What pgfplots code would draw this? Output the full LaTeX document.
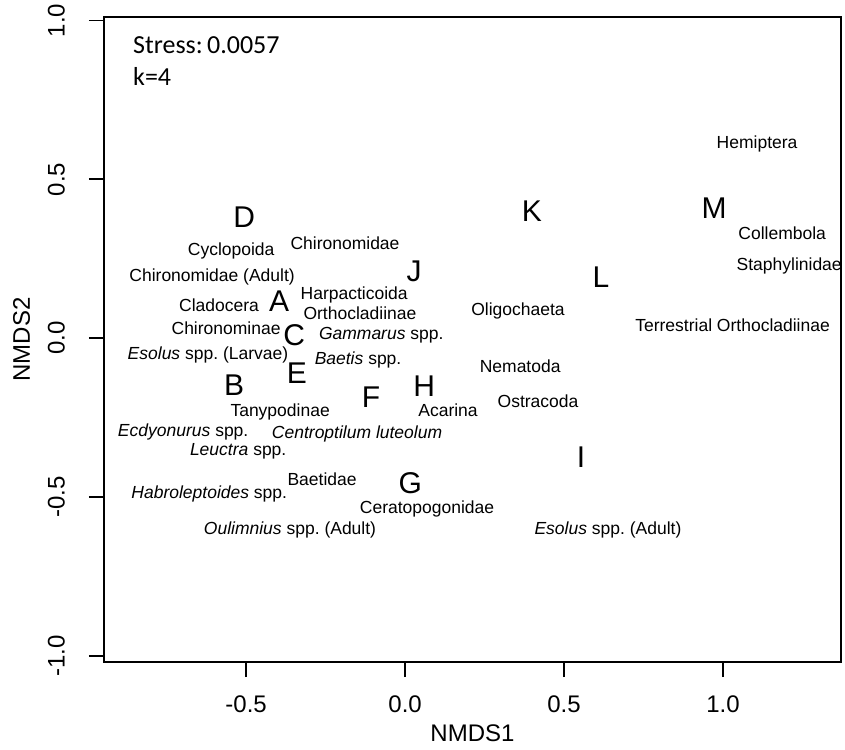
\documentclass[border=0pt]{standalone}
\usepackage{fontspec}
\setmainfont{Liberation Sans}
\newfontfamily\stressfont{Carlito}
\usepackage{pgfplots}
\pgfplotsset{compat=1.18}
\begin{document}
\frenchspacing
\begin{tikzpicture}
\begin{axis}[
  scale only axis, width=737pt, height=645pt,
  xmin=-0.947, xmax=1.371, ymin=-1.019, ymax=1.011,
  xtick={-0.5,0,0.5,1}, ytick={-1,-0.5,0,0.5,1},
  xticklabels={-0.5,0.0,0.5,1.0}, yticklabels={-1.0,-0.5,0.0,0.5,1.0},
  tick align=outside, major tick length=15pt,
  xtick pos=left, ytick pos=left,
  axis line style={line width=1.8pt},
  major tick style={line width=1.8pt, black},
  tick label style={font=\fontsize{24}{28}\selectfont, inner sep=0pt},
  xticklabel style={anchor=north, yshift=-19pt},
  yticklabel style={rotate=90, anchor=south, yshift=24pt},
  /pgf/number format/assume math mode=true,
  xlabel={NMDS1}, ylabel={NMDS2},
  label style={font=\fontsize{24}{28}\selectfont, inner sep=0pt},
  xlabel style={at={(axis description cs:0.5,0)}, anchor=base, yshift=-79pt},
  ylabel style={at={(axis description cs:0,0.5)}, anchor=base, yshift=74pt},
  clip=false,
]
\coordinate (sw) at (rel axis cs:0,0);
\coordinate (ne) at (rel axis cs:1,1);
% sites
\addplot[only marks, mark=none, nodes near coords, point meta=explicit symbolic,
  nodes near coords style={anchor=center, inner sep=0pt, font=\fontsize{30}{34}\selectfont}]
coordinates {
(-0.396,0.116) [A]
(-0.538,-0.147) [B]
(-0.349,0.009) [C]
(-0.506,0.382) [D]
(-0.340,-0.110) [E]
(-0.107,-0.185) [F]
(0.016,-0.455) [G]
(0.060,-0.150) [H]
(0.553,-0.373) [I]
(0.028,0.210) [J]
(0.399,0.401) [K]
(0.616,0.191) [L]
(0.972,0.408) [M]
};
% species
\addplot[only marks, mark=none, nodes near coords, point meta=explicit symbolic,
  nodes near coords style={anchor=center, inner sep=0pt, font=\fontsize{17.5}{20}\selectfont}]
coordinates {
(-0.547,0.276) [{Cyclopoida}]
(-0.189,0.298) [{Chironomidae}]
(-0.607,0.194) [{Chironomidae (Adult)}]
(-0.585,0.103) [{Cladocera}]
(-0.160,0.135) [{Harpacticoida}]
(-0.142,0.078) [{Orthocladiinae}]
(-0.563,0.031) [{Chironominae}]
(-0.075,0.009) [{\textit{Gammarus} spp.}]
(-0.620,-0.053) [{\textit{Esolus} spp. (Larvae)}]
(-0.148,-0.069) [{\textit{Baetis} spp.}]
(-0.393,-0.232) [{Tanypodinae}]
(-0.698,-0.295) [{\textit{Ecdyonurus} spp.}]
(-0.151,-0.301) [{\textit{Centroptilum luteolum}}]
(-0.525,-0.357) [{\textit{Leuctra} spp.}]
(-0.261,-0.445) [{Baetidae}]
(-0.616,-0.489) [{\textit{Habroleptoides} spp.}]
(0.069,-0.536) [{Ceratopogonidae}]
(-0.362,-0.602) [{\textit{Oulimnius} spp. (Adult)}]
(0.135,-0.226) [{Acarina}]
(0.362,-0.088) [{Nematoda}]
(0.418,-0.197) [{Ostracoda}]
(0.638,-0.602) [{\textit{Esolus} spp. (Adult)}]
(1.107,0.611) [{Hemiptera}]
(1.186,0.329) [{Collembola}]
(1.208,0.226) [{Staphylinidae}]
(0.355,0.085) [{Oligochaeta}]
(1.030,0.041) [{Terrestrial Orthocladiinae}]
};
\node[anchor=base west, inner sep=0pt, xshift=29pt, yshift=-37pt, font=\stressfont\fontsize{26}{30}\selectfont] at (axis description cs:0,1) {Stress:\,0.0057};
\node[anchor=base west, inner sep=0pt, xshift=29pt, yshift=-69pt, font=\stressfont\fontsize{26}{30}\selectfont] at (axis description cs:0,1) {k=4};
\end{axis}
\pgfresetboundingbox
\path[use as bounding box] (sw) ++(-104pt,-87pt) rectangle ([shift={(4pt,17pt)}]ne);
\end{tikzpicture}
\end{document}
